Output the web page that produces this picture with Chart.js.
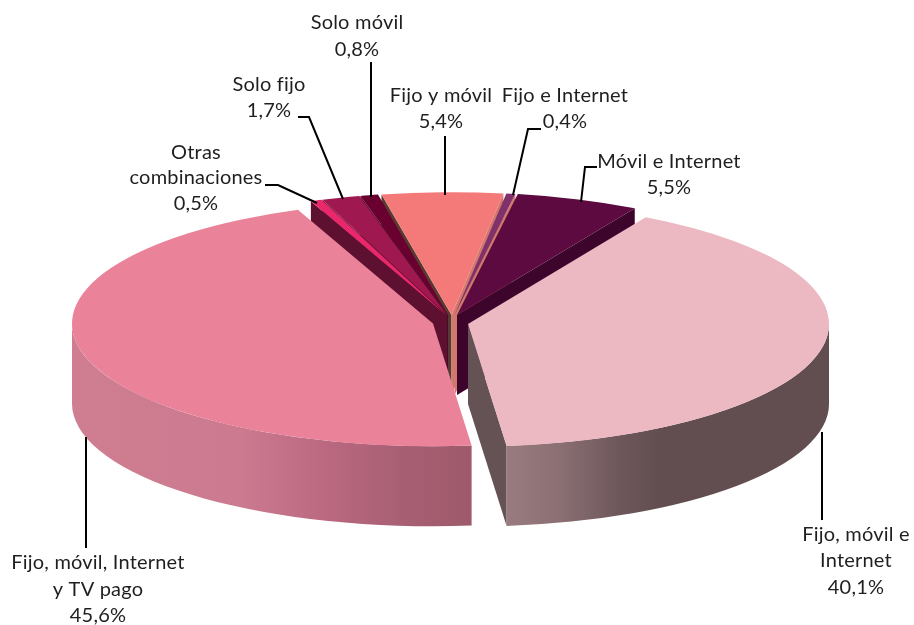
<!DOCTYPE html>
<html><head><meta charset="utf-8">
<style>html,body{margin:0;padding:0;background:#fff}#w{width:914px;height:625px}</style>
<script src="https://cdn.jsdelivr.net/npm/chart.js@4"></script></head>
<body><div id="w"><canvas id="c" width="914" height="625"></canvas></div>
<script>
const categories = ['Fijo, móvil e Internet','Fijo, móvil, Internet y TV pago','Otras combinaciones','Solo fijo','Solo móvil','Fijo y móvil','Fijo e Internet','Móvil e Internet'];
const values = [40.1,45.6,0.5,1.7,0.8,5.4,0.4,5.5];
const topColors = ['#ecb8c2','#ea829a','#e8286a','#a01850','#6a0030','#f47a7a','#80306a','#5c0a3f'];
const wallColors = ['#655255','#a05a6c','#5e1030','#5e1030','#4a0a25','#d0786c','#d0786c','#3d052c'];
const startWallColors = ['#655255','#a05a6c','#5e1030','#5e1030','#4a0a25','#5a3a30','#4a1a40','#3d052c'];
const shiftX = [17.5,-17.5,-4.5,-3.5,-2.5,1,4,6.5];
const shiftY = [4.4,3,-22,-22,-22,-22,-22,-22];
const labelBlocks = [
 {x:357,y:[23,50],t:['Solo móvil','0,8%']},
 {x:269,y:[85,111],t:['Solo fijo','1,7%']},
 {x:196,y:[153,178,204],t:['Otras','combinaciones','0,5%']},
 {x:441,y:[96,122],t:['Fijo y móvil','5,4%']},
 {x:565,y:[96,122],t:['Fijo e Internet','0,4%']},
 {x:669,y:[162,188],t:['Móvil e Internet','5,5%']},
 {x:98,y:[563,590,616],t:['Fijo, móvil, Internet','y TV pago','45,6%']},
 {x:856,y:[535,561,588],t:['Fijo, móvil e','Internet','40,1%']}
];
const leaders = [
 [[371,62],[371,197]],
 [[298,117],[309,117],[343,199]],
 [[265,185],[278,185],[317,203]],
 [[445,136],[445,195]],
 [[541,129],[528,129],[513,195]],
 [[597,167],[585,167],[581,202]],
 [[86,437],[86,548]],
 [[822,432],[822,520]]
];
const rimStopsRight = [[505,'#9a7c80'],[560,'#8a6f73'],[620,'#6d575a'],[660,'#624d50'],[830,'#624d50']];
const rimStopsLeft = [[72,'#cf7d90'],[240,'#cc7a90'],[330,'#b96880'],[400,'#a85f74'],[471,'#9e5a6a']];
const PIE_X = 450.5, PIE_Y = 322.5, TILT = 0.34, DEPTH = 80, RADIUS = 361, ROTATION = 29.5;
const wallOrder = [5,4,6,3,7,2,1,0];

const pie3d = {
 id:'pie3d',
 afterDatasetsUpdate(chart){
  chart.getDatasetMeta(0).data.forEach((el,i)=>{ el.x += shiftX[i]; el.y += shiftY[i]; });
 },
 beforeDatasetsDraw(chart){
  const ctx = chart.ctx, arcs = chart.getDatasetMeta(0).data;
  const ca = chart.chartArea, cx0 = (ca.left+ca.right)/2, cy0 = (ca.top+ca.bottom)/2;
  const sx = x => x + PIE_X - cx0, sy = y => PIE_Y + TILT*(y - cy0);
  const edge = (el,a,color) => {
    const X = sx(el.x), Y = sy(el.y);
    const ex = X + el.outerRadius*Math.cos(a), ey = Y + TILT*el.outerRadius*Math.sin(a);
    ctx.beginPath(); ctx.moveTo(X,Y); ctx.lineTo(ex,ey); ctx.lineTo(ex,ey+DEPTH); ctx.lineTo(X,Y+DEPTH); ctx.closePath();
    ctx.fillStyle = color; ctx.fill();
  };
  wallOrder.forEach(i=>{
    const el = arcs[i], a0 = el.startAngle, a1 = el.endAngle;
    const top0 = a0 + Math.PI/2, top1 = a1 + Math.PI/2;
    if (Math.sin(top0) < -1e-6) edge(el,a0,startWallColors[i]);
    if (Math.sin(top1) > 1e-6) edge(el,a1,wallColors[i]);
    const from = Math.max(a0,0), to = Math.min(a1,Math.PI);
    if (to > from) {
      const X = sx(el.x), Y = sy(el.y), R = el.outerRadius, r = TILT*R;
      ctx.beginPath();
      ctx.ellipse(X,Y,R,r,0,from,to,false);
      ctx.ellipse(X,Y+DEPTH,R,r,0,to,from,true);
      ctx.closePath();
      const stops = i===0 ? rimStopsRight : rimStopsLeft;
      const x0 = stops[0][0], x1 = stops[stops.length-1][0];
      const g = ctx.createLinearGradient(x0,0,x1,0);
      stops.forEach(s=>g.addColorStop((s[0]-x0)/(x1-x0),s[1]));
      ctx.fillStyle = g; ctx.fill();
    }
  });
  ctx.save();
  ctx.translate(PIE_X - cx0, PIE_Y);
  ctx.scale(1,TILT);
  ctx.translate(0,-cy0);
 },
 afterDatasetsDraw(chart){
  const ctx = chart.ctx;
  ctx.restore();
  ctx.save();
  ctx.strokeStyle = '#000'; ctx.lineWidth = 2; ctx.lineJoin='miter';
  leaders.forEach(p=>{ ctx.beginPath(); p.forEach((q,j)=> j?ctx.lineTo(q[0],q[1]):ctx.moveTo(q[0],q[1])); ctx.stroke(); });
  ctx.fillStyle = '#1f1f1f'; ctx.font = '20px Lato'; ctx.letterSpacing='0.2px'; ctx.textAlign='center'; ctx.textBaseline='middle';
  labelBlocks.forEach(b=> b.t.forEach((s,j)=> ctx.fillText(s,b.x,b.y[j])));
  ctx.restore();
 }
};
new Chart(document.getElementById('c'),{
 type:'pie',
 data:{labels:categories,datasets:[{data:values,backgroundColor:topColors,borderWidth:0,hoverOffset:0}]},
 options:{responsive:false,animation:false,rotation:ROTATION,radius:RADIUS,
  events:[],plugins:{legend:{display:false},tooltip:{enabled:false}}},
 plugins:[pie3d]
});
</script></body></html>
